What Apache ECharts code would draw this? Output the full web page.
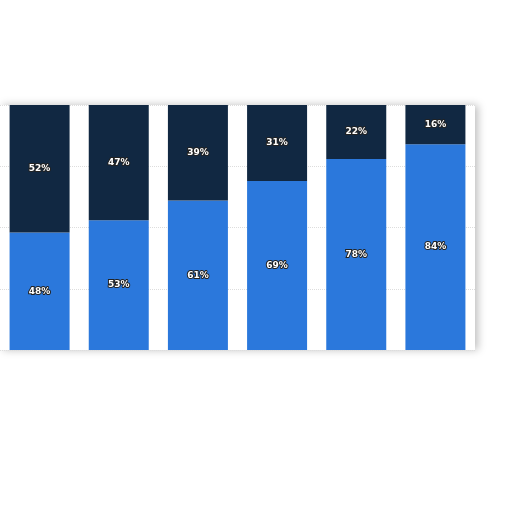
<!DOCTYPE html>
<html><head><meta charset="utf-8">
<script src="https://cdn.jsdelivr.net/npm/echarts@6/dist/echarts.min.js"></script>
<style>html,body{margin:0;background:#fff}#c{width:512px;height:512px}</style>
</head><body><div id="c"></div>
<script>
const categories = ['A','B','C','D','E','F'];
const lowerShare = [48,53,61,69,78,84];
const upperShare = [52,47,39,31,22,16];
const chart = echarts.init(document.getElementById('c'));
const lbl = {show:true, position:'inside', formatter:'{c}%', color:'#fff', fontSize:9, fontWeight:'bold', fontFamily:'DejaVu Sans', textBorderColor:'#222', textBorderWidth:2};
chart.setOption({
  animation:false,
  grid:{left:-16, right:37, top:105, bottom:162, show:true, backgroundColor:'#fff', borderWidth:0, shadowColor:'rgba(0,0,0,0.25)', shadowBlur:8, shadowOffsetX:3},
  xAxis:{type:'category', data:categories, show:false},
  yAxis:{type:'value', min:0, max:100, interval:25, axisLabel:{show:false}, axisLine:{show:false}, axisTick:{show:false}, splitLine:{lineStyle:{color:'#ddd', type:'dotted'}}},
  series:[
    {type:'bar', stack:'s', data:lowerShare, barWidth:60, itemStyle:{color:'#2b78dc'}, label:lbl},
    {type:'bar', stack:'s', data:upperShare, barWidth:60, itemStyle:{color:'#112842', borderColor:'#fff', borderWidth:0}, label:lbl}
  ]
});
</script></body></html>
